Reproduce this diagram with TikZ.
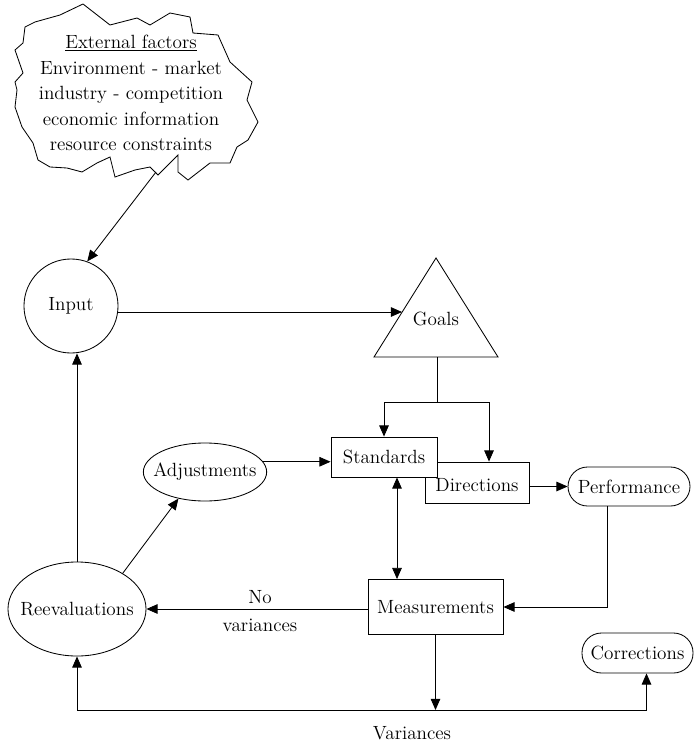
\documentclass[tikz,border=0pt]{standalone}
\usetikzlibrary{arrows.meta,shapes.geometric,calc}

\begin{document}
\begin{tikzpicture}[x=0.025cm, y=-0.025cm, line width=0.6pt,
    every node/.style={font=\fontsize{13.6}{18.2}\selectfont},
    arr/.style={-{Triangle[length=0.28cm,width=0.24cm]}},
    dbl/.style={{Triangle[length=0.28cm,width=0.24cm]}-{Triangle[length=0.28cm,width=0.24cm]}},
    box/.style={draw, rectangle, inner sep=0pt},
    oval/.style={draw, ellipse, inner ysep=0pt, inner xsep=-0.2cm},
    pill/.style={draw, rectangle, rounded corners=0.49cm, inner sep=0pt}]
    \useasboundingbox (0,0) rectangle (699,742);

    % the cloud of external factors
        \draw (25,27) -- (35,22) -- (60,15) -- (83,4) -- (110,25) -- (137,18)
            -- (150,25) -- (170,13) -- (190,17) -- (193,33) -- (218,35) -- (230,62)
            -- (252,82) -- (247,100) -- (258,122) -- (248,140) -- (237,147)
            -- (230,163) -- (210,163) -- (188,180) -- (178,172) -- (178,155)
            -- (158,175) -- (150,167) -- (135,170) -- (115,177) -- (110,157)
            -- (97,163) -- (82,172) -- (67,168) -- (50,167) -- (38,160) -- (33,143)
            -- (22,127) -- (15,107) -- (17,90) -- (15,82) -- (23,73) -- (15,50)
            -- (23,43) -- cycle;
        \node[align=center] (ext) at (131,93) {\underline{External factors}\\
            Environment - market\\industry - competition\\economic information\\
            resource constraints};
        \coordinate (cloudtip) at (156,172);

    % nodes
        \node[draw, circle, minimum size=2.35cm, inner sep=0pt] (input) at (71,306) {Input};
        \coordinate (gtop) at (436,258);
        \coordinate (gleft) at (374,357);
        \coordinate (gright) at (498,357);
        \draw (gtop) -- (gleft) -- (gright) -- cycle;
        \node (goals) at (436,319) {Goals};
        \node[box, minimum width=2.6cm, minimum height=1.025cm] (directions) at (477,482.5) {};
        \node (dirtext) at (477,485) {Directions};
        \node[box, fill=white, minimum width=2.65cm, minimum height=1cm] (standards) at (384,457) {Standards};
        \node[pill, minimum width=3.05cm, minimum height=0.975cm] (performance) at (629,486.5) {Performance};
        \node[oval, minimum width=3cm, minimum height=1.45cm] (adjust) at (205,472) {Adjustments};
        \node[box, minimum width=3.375cm, minimum height=1.375cm] (measurements) at (435.5,607) {Measurements};
        \node[oval, minimum width=3.45cm, minimum height=2.35cm] (reeval) at (77,609) {Reevaluations};
        \node[pill, minimum width=2.775cm, minimum height=1cm] (corrections) at (637.5,653) {Corrections};

    % connectors
        \draw[arr] (cloudtip) -- (input.70);
        \coordinate (gedge) at (402,312);
        \draw[arr] (input.east |- gedge) -- (gedge);
        \coordinate (gbase) at (437,357);
        \coordinate (gsplit) at (437,402);
        \draw (gbase) -- (gsplit);
        \draw[arr] (gsplit) -| (standards.north);
        \draw[arr] (gsplit) -| ($(directions.north)+(12,0)$);
        \draw[arr] (adjust.10) -- (adjust.10 -| standards.west);
        \draw[arr] (directions.east |- performance.west) -- (performance.west);
        \draw[arr] ($(performance.south)+(-22,0)$) |- (measurements.east);
        \coordinate (sm) at ($(standards.south)+(13,0)$);
        \draw[dbl] (sm) -- (sm |- measurements.north);
        \draw[arr] (measurements.west |- reeval.east) -- (reeval.east);
        \node (no) at (260,597) {No};
        \node (novar) at (260,625) {variances};
        \coordinate (vbus) at (measurements.south |- 0,710);
        \draw[arr] (measurements.south) -- (vbus);
        \draw[arr] (vbus) -| (reeval.south);
        \coordinate (cfoot) at ($(corrections.south)+(9,0)$);
        \draw[arr] (vbus) -| (cfoot);
        \node (variances) at (412,733) {Variances};
        \draw[arr] (reeval.north) -- (reeval.north |- input.south);
        \draw[arr] (reeval.38) -- (adjust.225);

\end{tikzpicture}
\end{document}
